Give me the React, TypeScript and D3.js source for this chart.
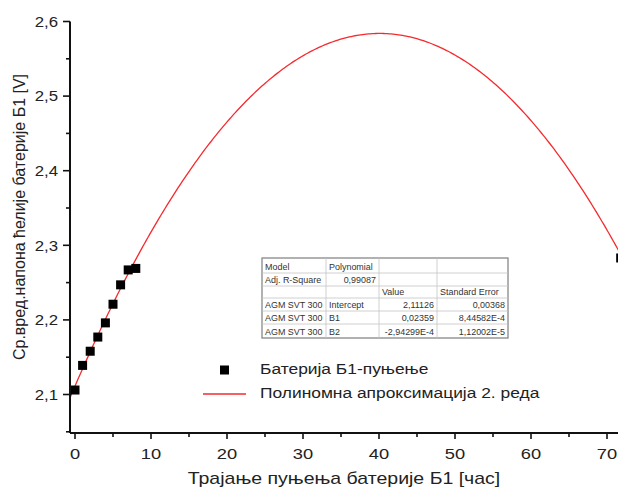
import React from "react";
import * as d3 from "d3";

const hours = [0, 1, 2, 3, 4, 5, 6, 7, 8, 71.8];
const voltage = [2.106, 2.139, 2.158, 2.177, 2.196, 2.221, 2.247, 2.267, 2.269, 2.283];
const fitCoeffs = [2.11126, 0.02359, -2.94299e-4];
const xTicks = [0, 10, 20, 30, 40, 50, 60, 70];
const xMinor = [5, 15, 25, 35, 45, 55, 65];
const yTicks = [2.1, 2.2, 2.3, 2.4, 2.5, 2.6];
const yMinor = [2.05, 2.15, 2.25, 2.35, 2.45, 2.55];
const tableRows = [
  ["Model", "Polynomial", "", ""],
  ["Adj. R-Square", "0,99087", "", ""],
  ["", "", "Value", "Standard Error"],
  ["AGM SVT 300", "Intercept", "2,11126", "0,00368"],
  ["AGM SVT 300", "B1", "0,02359", "8,44582E-4"],
  ["AGM SVT 300", "B2", "-2,94299E-4", "1,12002E-5"],
];
const legendLabels = ["Батерија Б1-пуњење", "Полиномна апроксимација 2. реда"];
const xTitle = "Трајање пуњења батерије Б1 [час]";
const yTitle = "Ср.вред.напона ћелије батерије Б1 [V]";

const fmt = (v: number) => v.toFixed(1).replace(".", ",");

function SText(props: { x: number; y: number; sx: number; size: number; anchor?: string; children: React.ReactNode; fill?: string }) {
  const { x, y, sx, size, anchor, children, fill } = props;
  return (
    <g transform={`translate(${x},${y}) scale(${sx},1)`}>
      <text x={0} y={0} fontSize={size} textAnchor={anchor || "start"} fill={fill || "#222"}>{children}</text>
    </g>
  );
}

export default function App() {
  const W = 618, H = 488;
  const x = d3.scaleLinear().domain([0, 70]).range([75, 607]);
  const y = d3.scaleLinear().domain([2.1, 2.6]).range([394.5, 21.5]);
  const axisX0 = 70;
  const axisY = 433;
  const font = "'Liberation Sans', Arial, sans-serif";
  const red = "#f52a2f";

  const fit = (t: number) => fitCoeffs[0] + fitCoeffs[1] * t + fitCoeffs[2] * t * t;
  const xs = d3.range(x.invert(axisX0), x.invert(W) + 0.5, 0.25);
  const line = d3.line<number>().x((t) => x(t)).y((t) => y(fit(t)));

  const colX = [262, 326, 379, 437, 508];
  const rowEdges = [258, 273, 286, 298, 311, 324, 338];
  const rightAlign = (r: number, c: number) => (r === 1 && c === 1) || (r >= 3 && c >= 2);

  return (
    <svg width={W} height={H} style={{ position: "absolute", left: 0, top: 0, background: "#fff" }} fontFamily={font}>
      {/* fit curve */}
      <path d={line(xs) || ""} fill="none" stroke={red} strokeWidth={1.3} />
      {/* points */}
      {hours.map((h, i) => (
        <rect key={i} x={x(h) - 4.5} y={y(voltage[i]) - 4.5} width={9} height={9} fill="#000" />
      ))}
      {/* axes */}
      <line x1={axisX0} x2={W} y1={axisY} y2={axisY} stroke="#111" strokeWidth={2} />
      <line x1={axisX0} x2={axisX0} y1={y(2.6)} y2={axisY} stroke="#111" strokeWidth={2} />
      {xTicks.map((t) => (
        <g key={"xt" + t}>
          <line x1={x(t)} x2={x(t)} y1={axisY} y2={axisY + 6} stroke="#111" strokeWidth={1.6} />
          <SText x={x(t)} y={459} sx={1.22} size={15} anchor="middle">{t}</SText>
        </g>
      ))}
      {xMinor.map((t) => (
        <line key={"xm" + t} x1={x(t)} x2={x(t)} y1={axisY} y2={axisY + 4} stroke="#111" strokeWidth={1.6} />
      ))}
      {yTicks.map((t) => (
        <g key={"yt" + t}>
          <line x1={axisX0 - 7} x2={axisX0} y1={y(t)} y2={y(t)} stroke="#111" strokeWidth={1.6} />
          <SText x={axisX0 - 12} y={y(t) + 5.3} sx={1.12} size={15} anchor="end">{fmt(t)}</SText>
        </g>
      ))}
      {yMinor.map((t) => (
        <line key={"ym" + t} x1={axisX0 - 4} x2={axisX0} y1={y(t)} y2={y(t)} stroke="#111" strokeWidth={1.6} />
      ))}
      {/* titles */}
      <SText x={344} y={484} sx={1.22} size={16} anchor="middle">{xTitle}</SText>
      <g transform="translate(25,217) rotate(-90)">
        <text x={0} y={0} textAnchor="middle" fontSize={16} fill="#222">{yTitle}</text>
      </g>
      {/* legend */}
      <rect x={220} y={365.5} width={9} height={9} fill="#000" />
      <SText x={260} y={374} sx={1.2} size={14.5}>{legendLabels[0]}</SText>
      <line x1={203} x2={246} y1={394} y2={394} stroke={red} strokeWidth={1.3} />
      <SText x={260} y={397.5} sx={1.2} size={14.5}>{legendLabels[1]}</SText>
      {/* table */}
      <g>
        <rect x={colX[0]} y={rowEdges[0]} width={colX[4] - colX[0]} height={rowEdges[6] - rowEdges[0]} fill="#fff" stroke="#888" strokeWidth={1.3} />
        {rowEdges.slice(1, 6).map((ry, i) => (
          <line key={"h" + i} x1={colX[0]} x2={colX[4]} y1={ry} y2={ry} stroke="#c4c4c4" strokeWidth={0.8} />
        ))}
        {colX.slice(1, 4).map((cx, i) => (
          <line key={"c" + i} x1={cx} x2={cx} y1={rowEdges[0]} y2={rowEdges[6]} stroke="#c4c4c4" strokeWidth={0.8} />
        ))}
        {tableRows.map((row, r) =>
          row.map((cell, c) =>
            cell ? (
              <SText key={r + "-" + c} x={rightAlign(r, c) ? colX[c + 1] - 3 : colX[c] + 3} y={rowEdges[r + 1] - 3.5}
                sx={1.08} size={8.3} anchor={rightAlign(r, c) ? "end" : "start"} fill="#333">{cell}</SText>
            ) : null
          )
        )}
      </g>
    </svg>
  );
}
